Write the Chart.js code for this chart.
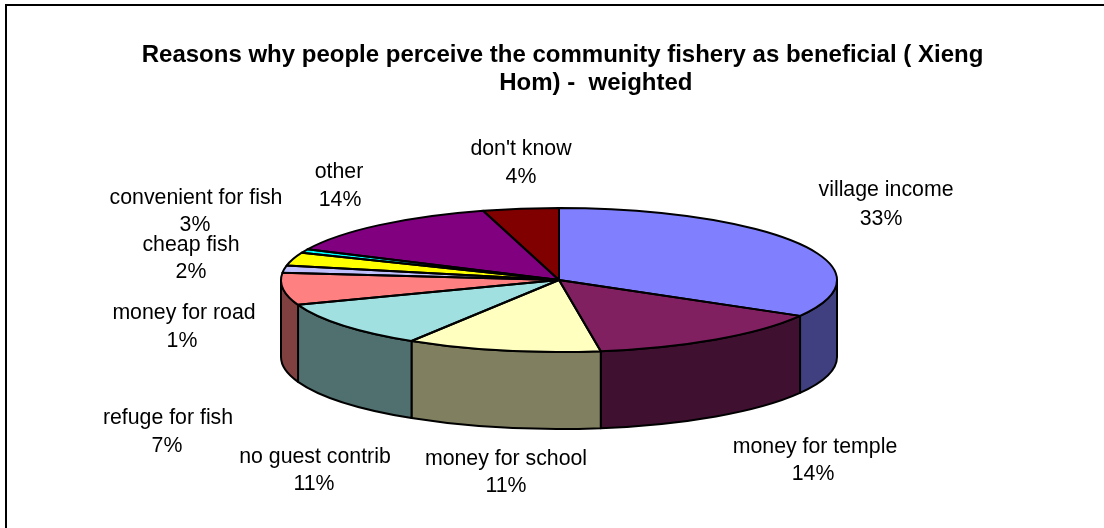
<!DOCTYPE html>
<html>
<head>
<meta charset="utf-8">
<title>Community fishery benefits</title>
<script src="https://cdn.jsdelivr.net/npm/chart.js@4"></script>
<style>
  html, body { margin: 0; padding: 0; background: #fff; }
  canvas { display: block; }
</style>
</head>
<body>
<canvas id="chart" width="1104" height="528"></canvas>
<script>
// Shares of respondents per reason, clockwise from twelve o'clock.
const categories = ["village income", "money for temple", "money for school", "no guest contrib",
  "refuge for fish", "cheap fish", "convenient for fish", "money for road", "other", "don't know"];
const shares = [33.3, 14.3, 11.3, 10.5, 7.2, 1.6, 3.0, 0.8, 13.6, 4.4];
const sliceColors = ["#8080FF", "#802060", "#FFFFC0", "#A0E0E0", "#FF8080",
  "#C0C0FF", "#FFFF00", "#00FFFF", "#800080", "#800000"];
const titleLines = ["Reasons why people perceive the community fishery as beneficial ( Xieng",
  "          Hom) -  weighted"];

// Label centres as [name x, name y, percent x, percent y], in category order.
const labelSpots = [
  [886, 190, 881, 219], [815, 447, 813, 474], [506, 459, 506, 486], [315, 457, 314, 484],
  [168, 418, 167, 446], [191, 245, 191, 272], [196, 198, 195, 225], [184, 313, 182, 341],
  [339, 172, 340, 200], [521, 149, 521, 177]
];

// Tilted disc geometry of the 3-D pie.
const DISC = { cx: 559, cy: 280, rx: 278, ry: 72, depth: 77 };

function halfTone(hex) {
  const n = parseInt(hex.slice(1), 16);
  const c = [n >> 16, (n >> 8) & 255, n & 255].map(v => Math.round(v / 2));
  return `rgb(${c[0]},${c[1]},${c[2]})`;
}

const tiltedPie = {
  id: 'tiltedPie',
  beforeDraw(chart) {
    // Chart frame: only the top and left rules show.
    const ctx = chart.ctx;
    ctx.save();
    ctx.fillStyle = '#000';
    ctx.fillRect(5, 4, chart.width - 5, 2);
    ctx.fillRect(5, 4, 2, chart.height - 4);
    ctx.restore();
  },
  beforeDatasetsDraw(chart) {
    // Side wall below the visible front half of the rim.
    const ctx = chart.ctx;
    const { cx, cy, rx, ry, depth } = DISC;
    ctx.save();
    ctx.lineWidth = 2;
    ctx.strokeStyle = '#000';
    ctx.lineJoin = 'round';
    chart.getDatasetMeta(0).data.forEach((arc, i) => {
      const a0 = Math.max(arc.startAngle, 0);
      const a1 = Math.min(arc.endAngle, Math.PI);
      if (a0 >= a1) return;
      ctx.beginPath();
      ctx.ellipse(cx, cy, rx, ry, 0, a0, a1);
      ctx.ellipse(cx, cy + depth, rx, ry, 0, a1, a0, true);
      ctx.closePath();
      ctx.fillStyle = halfTone(sliceColors[i]);
      ctx.fill();
      ctx.stroke();
    });
    ctx.restore();
  },
  beforeDatasetDraw(chart) {
    // Squash the library's circular arcs onto the disc.
    const ctx = chart.ctx;
    const first = chart.getDatasetMeta(0).data[0];
    ctx.save();
    ctx.translate(DISC.cx, DISC.cy);
    ctx.scale(1, DISC.ry / DISC.rx);
    ctx.translate(-first.x, -first.y);
  },
  afterDatasetDraw(chart) {
    const ctx = chart.ctx;
    ctx.restore();
    const { cx, cy, rx, ry } = DISC;
    ctx.save();
    ctx.lineWidth = 2;
    ctx.strokeStyle = '#000';
    ctx.lineJoin = 'round';
    chart.getDatasetMeta(0).data.forEach(arc => {
      ctx.beginPath();
      ctx.moveTo(cx, cy);
      ctx.ellipse(cx, cy, rx, ry, 0, arc.startAngle, arc.endAngle);
      ctx.closePath();
      ctx.stroke();
    });
    ctx.restore();
  },
  afterDraw(chart) {
    // Category name above its rounded percentage.
    const ctx = chart.ctx;
    ctx.save();
    ctx.font = '21.3px "Liberation Sans", Arial, sans-serif';
    ctx.fillStyle = '#000';
    ctx.textAlign = 'center';
    ctx.textBaseline = 'middle';
    categories.forEach((name, i) => {
      const [nx, ny, px, py] = labelSpots[i];
      ctx.fillText(name, nx, ny);
      ctx.fillText(Math.round(shares[i]) + '%', px, py);
    });
    ctx.restore();
  }
};

new Chart(document.getElementById('chart'), {
  type: 'pie',
  data: {
    labels: categories,
    datasets: [{
      data: shares,
      backgroundColor: sliceColors,
      borderWidth: 0,
      clip: false
    }]
  },
  options: {
    responsive: false,
    animation: false,
    radius: DISC.rx,
    layout: { padding: { left: 21 } },
    plugins: {
      legend: { display: false },
      tooltip: { enabled: false },
      title: {
        display: true,
        text: titleLines,
        color: '#000',
        font: { family: '"Liberation Sans", Arial, sans-serif', size: 24, weight: 'bold', lineHeight: 1.167 },
        padding: { top: 41, bottom: 0 }
      }
    }
  },
  plugins: [tiltedPie]
});
</script>
</body>
</html>
